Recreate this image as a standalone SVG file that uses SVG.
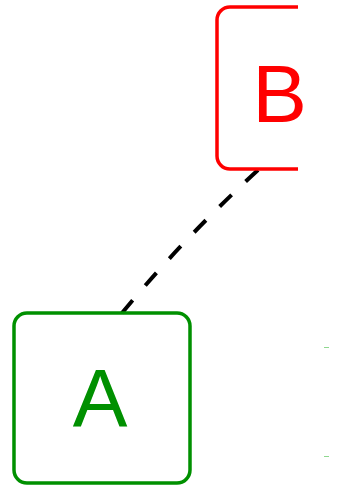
<svg xmlns="http://www.w3.org/2000/svg" width="347" height="486" viewBox="0 0 347 486">
<style>
.lbl{font-family:"Liberation Sans",Arial,sans-serif;font-size:82px;text-anchor:middle}
.box{fill:none;stroke-width:3.5}
</style>
<rect width="347" height="486" fill="#ffffff"/>
<g id="connectors">
<path d="M 122 313 Q 182 240 258 170" pathLength="200" fill="none" stroke="#000" stroke-width="4" stroke-dasharray="17 19.6"/>
</g>
<g id="node-B">
<path class="box" d="M 298 7 H 230 A 13 13 0 0 0 217 20 V 156 A 13 13 0 0 0 230 169 H 298" stroke="#ff0000"/>
<text class="lbl" x="279.5" y="122" fill="#ff0000">B</text>
</g>
<g id="node-A">
<rect class="box" x="14" y="313" width="176" height="170" rx="13" stroke="#009000"/>
<text class="lbl" x="100" y="426" fill="#009000">A</text>
</g>
<g id="marks" stroke="#8fd88f" stroke-width="1">
<line x1="324" y1="347.5" x2="329" y2="347.5"/>
<line x1="324" y1="456.5" x2="329" y2="456.5"/>
</g>
</svg>
